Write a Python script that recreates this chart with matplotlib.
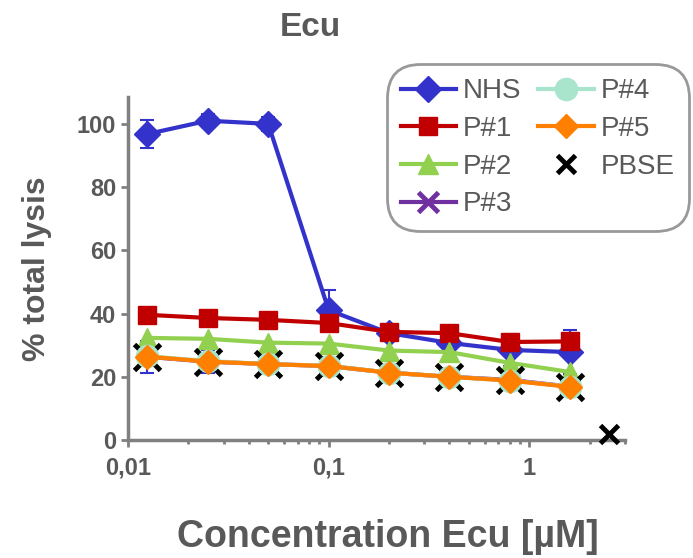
import matplotlib.pyplot as plt
from matplotlib.lines import Line2D
from matplotlib.ticker import FixedLocator, LogLocator, NullFormatter

# concentrations in uM
conc = [0.0125, 0.025, 0.05, 0.1, 0.2, 0.4, 0.8, 1.6]

nhs = [96.8, 101.0, 100.0, 41.1, 33.8, 30.7, 28.5, 27.8]
nhs_err = [4.4, 2.0, 2.2, 6.2, 2.0, 0.0, 5.0, 7.0]
p1 = [39.6, 38.6, 38.0, 37.0, 34.2, 33.8, 31.0, 31.2]
p2 = [32.3, 32.0, 30.8, 30.5, 28.3, 27.8, 24.4, 21.5]
p3 = [26.3, 24.8, 24.0, 23.4, 21.3, 20.0, 19.0, 16.9]
p3_err = [5.0, 3.6, 0, 0, 0, 0, 0, 0]
p4 = [26.5, 25.0, 24.0, 23.5, 21.3, 20.0, 18.8, 16.9]
p5 = [26.4, 24.8, 24.0, 23.4, 21.3, 20.0, 18.8, 16.8]
pbse_conc = [2.5]
pbse = [2.0]

labels = ['NHS', 'P#1', 'P#2', 'P#3', 'P#4', 'P#5', 'PBSE']
x_ticks = [0.01, 0.1, 1]
x_ticklabels = ['0,01', '0,1', '1']
y_ticks = [0, 20, 40, 60, 80, 100]

blue = '#3333CC'
red = '#C00000'
green = '#92D050'
purple = '#7030A0'
mint = '#A9E5CD'
orange = '#FF8000'
grey = '#595959'

plt.rcParams['font.family'] = ['Liberation Sans', 'DejaVu Sans']

fig = plt.figure(figsize=(6.93, 5.58), dpi=100)
ax = fig.add_axes([128 / 693, 1 - 440 / 558, (625 - 128) / 693, (440 - 97) / 558])

lw = 3
ax.errorbar(conc, nhs, yerr=nhs_err, color=blue, lw=lw, marker='D', ms=13,
            capsize=5, elinewidth=1.5, capthick=1.5, zorder=3)
l1, = ax.plot(conc, p1, color=red, lw=lw, marker='s', ms=13, zorder=4)
l2, = ax.plot(conc, p2, color=green, lw=lw, marker='^', ms=15, zorder=5)
ax.errorbar(conc, p3, yerr=p3_err, fmt='none', ecolor=blue, elinewidth=1.5,
            capsize=5, capthick=1.5, zorder=2)
ax.plot(conc, p3, color=purple, lw=lw, marker='x', ms=19, mew=3.5, mec='black', zorder=6)
l4, = ax.plot(conc, p4, color=mint, lw=lw, marker='o', ms=16, zorder=7)
l5, = ax.plot(conc, p5, color=orange, lw=lw, marker='D', ms=12, zorder=8)
l6, = ax.plot(pbse_conc, pbse, ls='none', color='black', marker='x', ms=13, mew=3.5,
              zorder=9, clip_on=False)

ax.set_xscale('log')
ax.set_xlim(0.01, 3.0)
ax.set_ylim(0, 108.5)
ax.xaxis.set_major_locator(FixedLocator(x_ticks))
ax.set_xticklabels(x_ticklabels)
ax.xaxis.set_minor_locator(LogLocator(base=10, subs=range(2, 10)))
ax.xaxis.set_minor_formatter(NullFormatter())
ax.set_yticks(y_ticks)

for s in ['top', 'right']:
    ax.spines[s].set_visible(False)
for s in ['left', 'bottom']:
    ax.spines[s].set_color('#808080')
    ax.spines[s].set_linewidth(2.5)
ax.tick_params(axis='both', which='major', colors='#808080', width=2, length=5,
               labelcolor=grey, labelsize=17)
ax.tick_params(axis='x', which='minor', colors='#808080', width=2, length=3)
for t in ax.get_xticklabels() + ax.get_yticklabels():
    t.set_fontweight('bold')
ax.tick_params(axis='x', pad=7)

ax.set_title('Ecu', fontsize=24, fontweight='bold', color=grey, pad=44,
             x=(310 - 128) / 497)
ax.set_ylabel('% total lysis', fontsize=23, fontweight='bold', color=grey, labelpad=18)
ax.set_xlabel('Concentration Ecu [µM]', fontsize=27, fontweight='bold', color=grey, labelpad=28)
ax.xaxis.label.set_x((388 - 128) / 497)

# legend: plain line handles, P#3 shown purple in the key
h0 = Line2D([], [], color=blue, lw=lw, marker='D', ms=13)
h3 = Line2D([], [], color=purple, lw=lw, marker='x', ms=14, mew=3.5)
handles = [h0, l1, l2, h3, l4, l5, l6]
leg = ax.legend(handles, labels, ncol=2, loc='upper right',
                bbox_to_anchor=(683 / 693, 1 - 70 / 558), bbox_transform=fig.transFigure,
                fontsize=20, frameon=True, fancybox=True, handlelength=2.0,
                handletextpad=0.25, columnspacing=0.6, labelspacing=0.42,
                borderpad=0.3, borderaxespad=0)
leg.get_frame().set_edgecolor('#808080')
leg.get_frame().set_linewidth(2)
leg.get_frame().set_boxstyle('round,pad=0.2,rounding_size=1.2')
for t in leg.get_texts():
    t.set_color(grey)

fig.savefig('out.png', dpi=100)
